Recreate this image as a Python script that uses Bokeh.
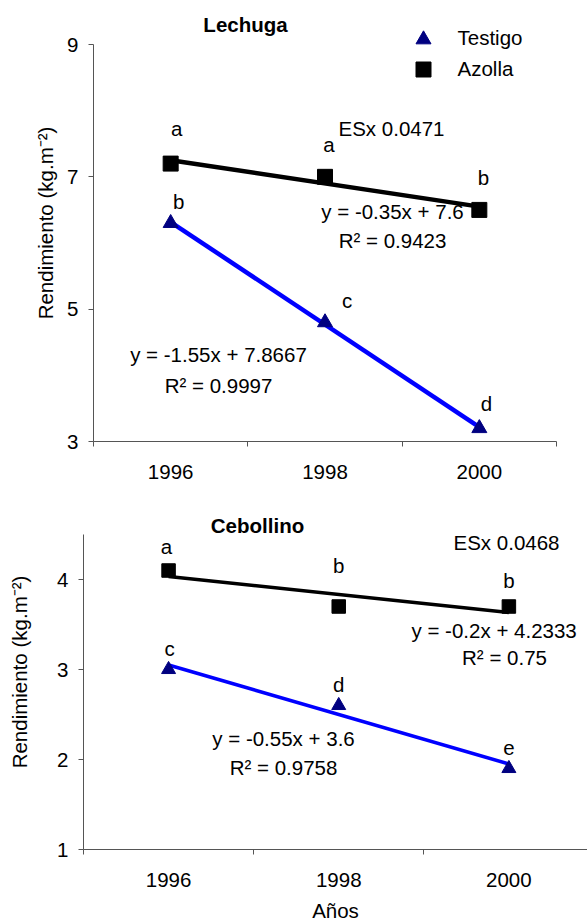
import numpy as np
from bokeh.plotting import figure
from bokeh.models import Range1d, FixedTicker
from bokeh.embed import file_html
from bokeh.resources import INLINE
from bokeh.core.properties import value

# ---------------- data ----------------
years = ["1996", "1998", "2000"]
x_idx = [1, 2, 3]

# Lechuga
lech_testigo = [6.3, 4.8, 3.2]
lech_azolla = [7.2, 7.0, 6.5]
lech_testigo_letters = ["b", "c", "d"]
lech_azolla_letters = ["a", "a", "b"]
lech_testigo_fit = [-1.55, 7.8667]
lech_azolla_fit = [-0.35, 7.6]
lech_testigo_r2 = 0.9997
lech_azolla_r2 = 0.9423
lech_esx = "ESx 0.0471"
lech_yticks = [3, 5, 7, 9]

# Cebollino
ceb_testigo = [3.0, 2.6, 1.9]
ceb_azolla = [4.1, 3.7, 3.7]
ceb_testigo_letters = ["c", "d", "e"]
ceb_azolla_letters = ["a", "b", "b"]
ceb_testigo_fit = [-0.55, 3.6]
ceb_azolla_fit = [-0.2, 4.2333]
ceb_testigo_r2 = 0.9758
ceb_azolla_r2 = 0.75
ceb_esx = "ESx 0.0468"
ceb_yticks = [1, 2, 3, 4]

y_label = "Rendimiento (kg.m\u207b\u00b2)"
x_label = "A\u00f1os"

# ---------------- styling / layout ----------------
FONT = "Liberation Sans"
FS = "20.5px"
AXIS_COLOR = "#555555"
BLUE = "#0000FF"
NAVY = "#000080"


def eq_text(fit):
    return "y = %gx + %g" % (fit[0], fit[1])


def r2_text(r2):
    return "R\u00b2 = %g" % r2


def px2x(cfg, px):
    return 0.5 + (px - cfg["left"]) / cfg["ppx"]


def px2y(cfg, py):
    return cfg["ymin"] + (cfg["fbot"] - py) / cfg["ppy"]


def build(cfg):
    fw = 587 - cfg["left"]
    fh = cfg["h"] - cfg["top"] - cfg["bottom"]
    p = figure(width=587, height=cfg["h"], output_backend="svg", toolbar_location=None,
               x_range=Range1d(0.5, 0.5 + fw / cfg["ppx"]),
               y_range=Range1d(cfg["ymin"], cfg["ymin"] + fh / cfg["ppy"]),
               min_border_left=cfg["left"], min_border_right=0,
               min_border_top=cfg["top"], min_border_bottom=cfg["bottom"])
    p.outline_line_color = None
    p.xgrid.visible = False
    p.ygrid.visible = False

    xa = p.xaxis[0]
    xa.ticker = FixedTicker(ticks=x_idx, minor_ticks=[0.5, 1.5, 2.5, 3.5])
    xa.major_label_overrides = {i: y for i, y in zip(x_idx, years)}
    xa.bounds = (0.5, 3.5)
    xa.major_tick_out = 0
    xa.major_tick_in = 0
    xa.minor_tick_out = 5
    xa.minor_tick_in = 0
    xa.minor_tick_line_color = AXIS_COLOR
    xa.axis_line_color = AXIS_COLOR
    xa.major_label_standoff = cfg["xstand"]
    xa.major_label_text_font = FONT
    xa.major_label_text_font_size = FS
    xa.major_label_text_color = "black"
    if cfg.get("xlabel"):
        xa.axis_label = cfg["xlabel"]
        xa.axis_label_text_font = FONT
        xa.axis_label_text_font_size = FS
        xa.axis_label_text_font_style = "normal"
        xa.axis_label_text_color = "black"
        xa.axis_label_standoff = cfg["xlabstand"]

    ya = p.yaxis[0]
    ya.ticker = FixedTicker(ticks=cfg["yticks"])
    ya.bounds = (cfg["ymin"], cfg["ymax"])
    ya.major_tick_out = 5
    ya.major_tick_in = 0
    ya.major_tick_line_color = AXIS_COLOR
    ya.minor_tick_line_color = None
    ya.axis_line_color = AXIS_COLOR
    ya.major_label_standoff = 10
    ya.major_label_text_font = FONT
    ya.major_label_text_font_size = FS
    ya.major_label_text_color = "black"
    ya.axis_label = y_label
    ya.axis_label_text_font = FONT
    ya.axis_label_text_font_size = FS
    ya.axis_label_text_font_style = "normal"
    ya.axis_label_text_color = "black"
    ya.axis_label_standoff = cfg["ylabstand"]
    return p


def txt(p, x, y, s, align="center", bold=False, size=FS):
    p.text(x=[x], y=[y], text=[s], text_font=value(FONT), text_font_size=size,
           text_align=align, text_baseline="middle", text_color="black",
           text_font_style="bold" if bold else "normal")


def letters(p, cfg, vals, labs, offs):
    xs = [xi + o[0] / cfg["ppx"] for xi, o in zip(x_idx, offs)]
    ys = [v + o[1] / cfg["ppy"] for v, o in zip(vals, offs)]
    p.text(x=xs, y=ys, text=labs, text_font=value(FONT), text_font_size=FS,
           text_align="center", text_baseline="middle", text_color="black")


def series(p, testigo, azolla, tfit, afit, lw, tsize, ssize):
    xl = [x_idx[0], x_idx[-1]]
    p.line(xl, [tfit[0] * x + tfit[1] for x in xl], line_color=BLUE, line_width=lw)
    p.line(xl, [afit[0] * x + afit[1] for x in xl], line_color="black", line_width=lw)
    p.scatter(x_idx, testigo, marker="triangle", size=tsize, fill_color=NAVY, line_color=NAVY)
    p.scatter(x_idx, azolla, marker="square", size=ssize, fill_color="black", line_color="black")


# ---------------- top: Lechuga ----------------
top = dict(h=490, left=93, top=4, bottom=49, ppx=(556 - 93) / 3.0, ppy=(441 - 44) / 6.0,
           ymin=3, ymax=9, fbot=441, yticks=lech_yticks, xstand=18, ylabstand=7)
p1 = build(top)
txt(p1, px2x(top, 245), px2y(top, 24), "Lechuga", bold=True)
txt(p1, px2x(top, 457), px2y(top, 37), "Testigo", align="left")
txt(p1, px2x(top, 457), px2y(top, 68), "Azolla", align="left")
txt(p1, px2x(top, 391), px2y(top, 128), lech_esx)
txt(p1, px2x(top, 392), px2y(top, 211), eq_text(lech_azolla_fit))
txt(p1, px2x(top, 392), px2y(top, 240), r2_text(lech_azolla_r2))
txt(p1, px2x(top, 218), px2y(top, 354), eq_text(lech_testigo_fit))
txt(p1, px2x(top, 218), px2y(top, 385), r2_text(lech_testigo_r2))
letters(p1, top, lech_azolla, lech_azolla_letters, [(6, 35), (4, 32), (4, 32)])
letters(p1, top, lech_testigo, lech_testigo_letters, [(8, 22), (22, 22), (7, 25)])
series(p1, lech_testigo, lech_azolla, lech_testigo_fit, lech_azolla_fit, 4.5, 15, 15)
p1.scatter([px2x(top, 423)], [px2y(top, 39)], marker="triangle", size=15, fill_color=NAVY, line_color=NAVY)
p1.scatter([px2x(top, 423)], [px2y(top, 69)], marker="square", size=15, fill_color="black", line_color="black")

# ---------------- bottom: Cebollino ----------------
bot = dict(h=434, left=83, top=4, bottom=75, ppx=170.15, ppy=90.0,
           ymin=1, ymax=4.5, fbot=849 - 490, yticks=ceb_yticks, xstand=18, ylabstand=23,
           xlabel=x_label, xlabstand=9)
p2 = build(bot)
txt(p2, px2x(bot, 257), px2y(bot, 525 - 490), "Cebollino", bold=True)
txt(p2, px2x(bot, 506), px2y(bot, 542 - 490), ceb_esx)
txt(p2, px2x(bot, 411), px2y(bot, 630 - 490), eq_text(ceb_azolla_fit), align="left")
txt(p2, px2x(bot, 504), px2y(bot, 657 - 490), r2_text(ceb_azolla_r2))
txt(p2, px2x(bot, 283), px2y(bot, 738 - 490), eq_text(ceb_testigo_fit))
txt(p2, px2x(bot, 283), px2y(bot, 767 - 490), r2_text(ceb_testigo_r2))
letters(p2, bot, ceb_azolla, ceb_azolla_letters, [(-2, 24), (0, 41), (0, 26)])
letters(p2, bot, ceb_testigo, ceb_testigo_letters, [(1, 21), (0, 21), (0, 21)])
series(p2, ceb_testigo, ceb_azolla, ceb_testigo_fit, ceb_azolla_fit, 3.5, 14, 13.5)

open("out.html", "w").write(file_html([p1, p2], INLINE))
